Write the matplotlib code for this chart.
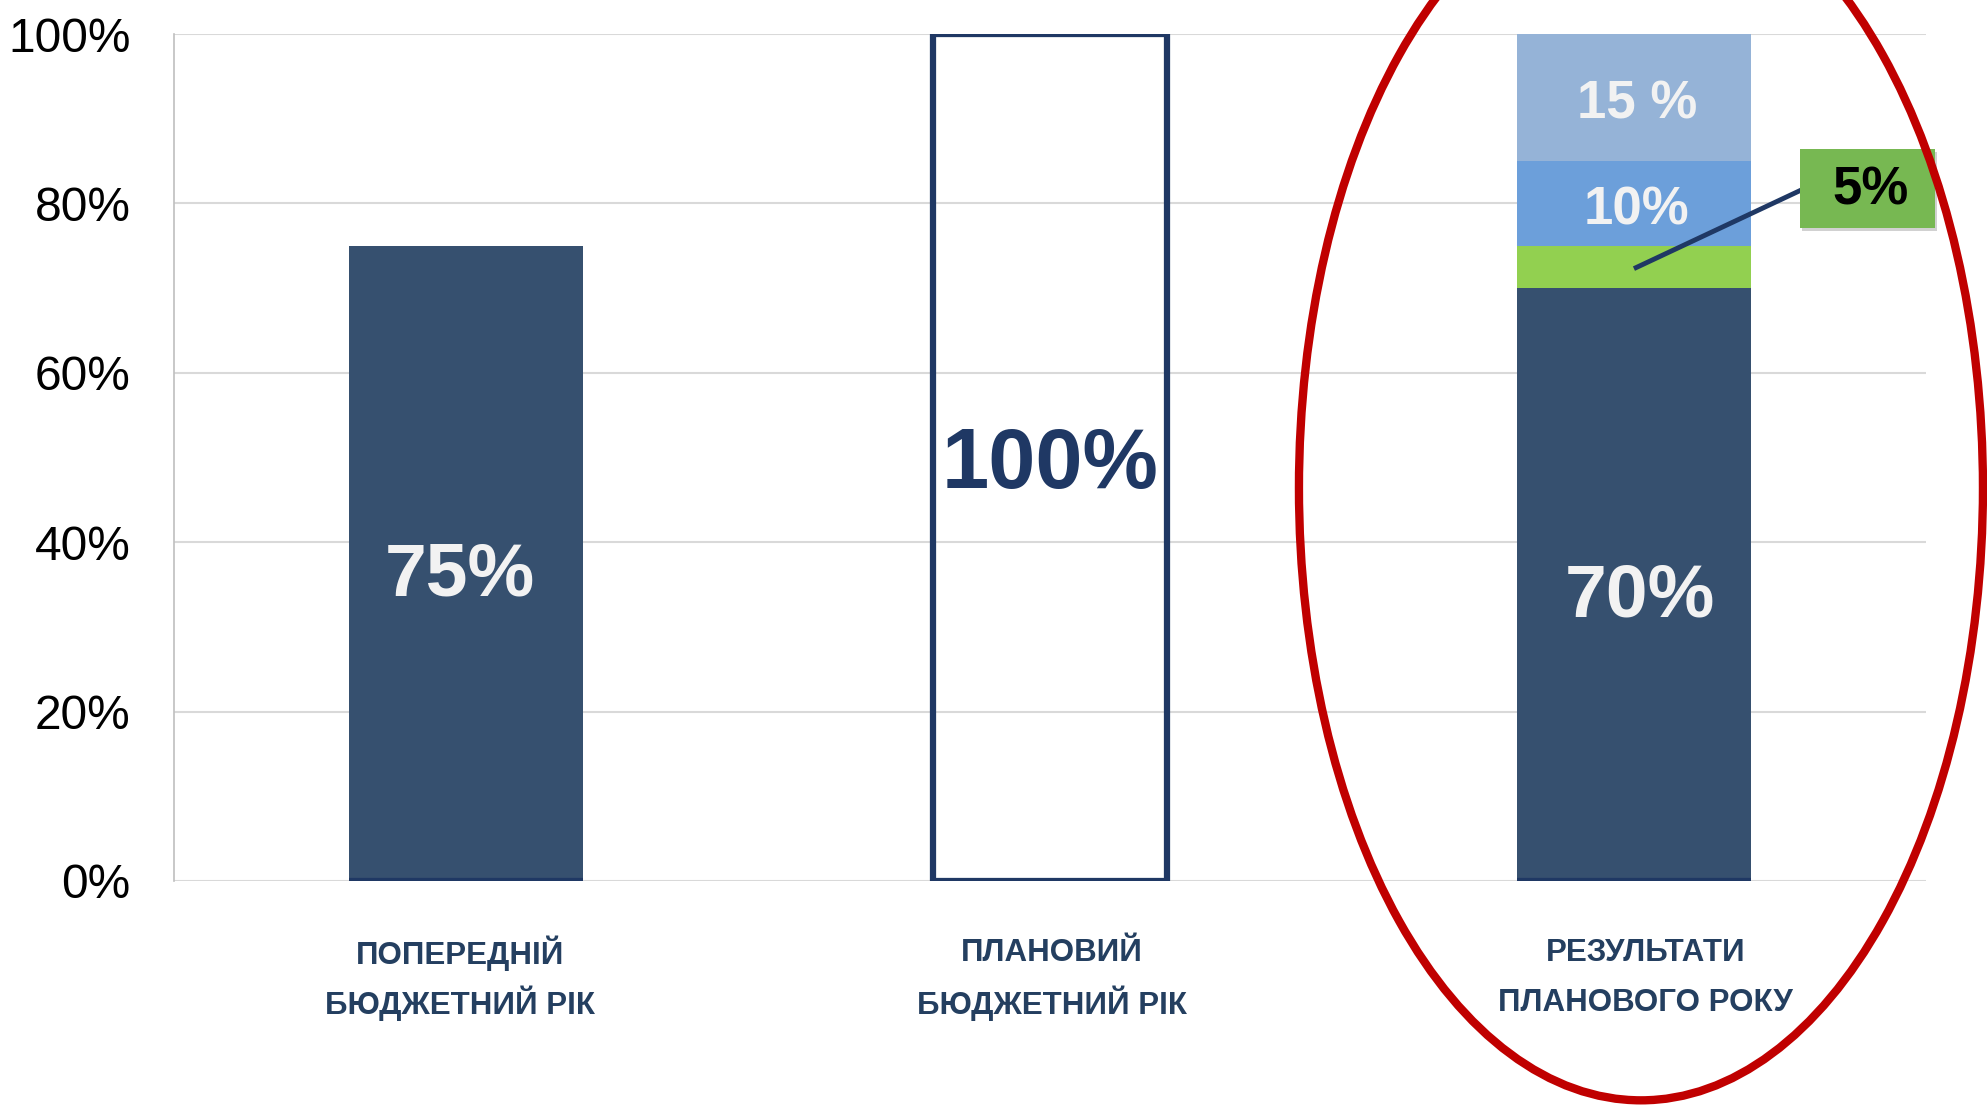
import matplotlib
matplotlib.use("Agg")
import matplotlib.pyplot as plt
from matplotlib.patches import Ellipse, Rectangle
import matplotlib.transforms as mtransforms

plt.rcParams['font.family'] = ['Liberation Sans', 'DejaVu Sans']

categories = ["ПОПЕРЕДНІЙ\nБЮДЖЕТНИЙ РІК", "ПЛАНОВИЙ\nБЮДЖЕТНИЙ РІК", "РЕЗУЛЬТАТИ\nПЛАНОВОГО РОКУ"]
base_vals = [75, 0, 70]
plan_vals = [0, 100, 0]
green_vals = [0, 0, 5]
mid_vals = [0, 0, 10]
top_vals = [0, 0, 15]
yticks = [0, 20, 40, 60, 80, 100]
ytick_labels = ["0%", "20%", "40%", "60%", "80%", "100%"]

NAVY = "#36506F"
EDGE = "#1F3864"
LIGHT = "#95B3D7"
MID = "#6C9FDA"
GREEN = "#92D050"
BOXGREEN = "#77B852"
WHITE = "#F2F2F2"

fig = plt.figure(figsize=(19.87, 11.08), dpi=100)
ax = fig.add_axes([0.0874, 0.2049, 0.9693 - 0.0874, 0.9693 - 0.2049])

x = list(range(len(categories)))
w = 0.4
ax.bar(x, base_vals, width=w, color=NAVY, zorder=3)
ax.bar(x, plan_vals, width=w, facecolor="none", edgecolor=EDGE, linewidth=4.5, zorder=3)
b2 = [b for b in base_vals]
ax.bar(x, green_vals, width=w, bottom=b2, color=GREEN, zorder=3)
b3 = [b + g for b, g in zip(b2, green_vals)]
ax.bar(x, mid_vals, width=w, bottom=b3, color=MID, zorder=3)
b4 = [b + m for b, m in zip(b3, mid_vals)]
ax.bar(x, top_vals, width=w, bottom=b4, color=LIGHT, zorder=3)

ax.set_xlim(-0.5, 2.5)
ax.set_ylim(0, 100)
ax.set_yticks(yticks)
ax.set_yticklabels(ytick_labels, fontsize=34.5)
ax.tick_params(axis='y', length=0, pad=31)
ax.set_xticks([])
ax.grid(axis='y', color="#D9D9D9", linewidth=1.5, zorder=0)
for s in ['top', 'right', 'bottom']:
    ax.spines[s].set_visible(False)
ax.spines['left'].set_color("#BFBFBF")
ax.spines['left'].set_linewidth(1.2)

# bar labels
ax.text(-0.01, base_vals[0] / 2 - 1.5, "75%", ha='center', va='center', fontsize=54,
        fontweight='bold', color=WHITE, zorder=5)
ax.text(1, plan_vals[1] / 2 - 1, "100%", ha='center', va='center', fontsize=61,
        fontweight='bold', color=EDGE, zorder=5)
ax.text(2.01, base_vals[2] / 2 - 1.5, "70%", ha='center', va='center', fontsize=54,
        fontweight='bold', color=WHITE, zorder=5)
ax.text(2.005, b3[2] + mid_vals[2] / 2 - 0.8, "10%", ha='center', va='center', fontsize=38,
        fontweight='bold', color=WHITE, zorder=5)
ax.text(2.005, b4[2] + top_vals[2] / 2 - 0.8, "15 %", ha='center', va='center', fontsize=38,
        fontweight='bold', color=WHITE, zorder=5)

# callout for 5%
ax.plot([2.0, 2.287], [b2[2] + green_vals[2] / 2 - 0.2, 81.6], color=EDGE, linewidth=3.5,
        zorder=6, clip_on=False, solid_capstyle='butt')
shadow = Rectangle((2.288, 76.8), 0.23, 9.3, facecolor="#000000", alpha=0.18,
                   edgecolor='none', zorder=6, clip_on=False)
ax.add_patch(shadow)
box = Rectangle((2.285, 77.1), 0.23, 9.3, facecolor=BOXGREEN, edgecolor='none',
                zorder=7, clip_on=False)
ax.add_patch(box)
ax.text(2.405, 81.5, "5%", ha='center', va='center', fontsize=38, fontweight='bold',
        color="black", zorder=8, clip_on=False)

# category labels
label_shift = [-0.01, 0.004, 0.02]
trans = mtransforms.blended_transform_factory(ax.transData, ax.transAxes)
for xi, lab, dx in zip(x, categories, label_shift):
    l1, l2 = lab.split("\n")
    ax.text(xi + dx, -0.0815, l1, transform=trans, ha='center', va='center_baseline',
            fontsize=22.5, fontweight='bold', color="#243F60")
    ax.text(xi + dx, -0.1405, l2, transform=trans, ha='center', va='center_baseline',
            fontsize=22.5, fontweight='bold', color="#243F60")

# red ellipse highlight
ell = Ellipse((2.012, 46.4), 1.171, 144.6, facecolor='none', edgecolor="#C00000",
              linewidth=6, zorder=9, clip_on=False)
ax.add_patch(ell)

fig.savefig("out.png", dpi=100)
